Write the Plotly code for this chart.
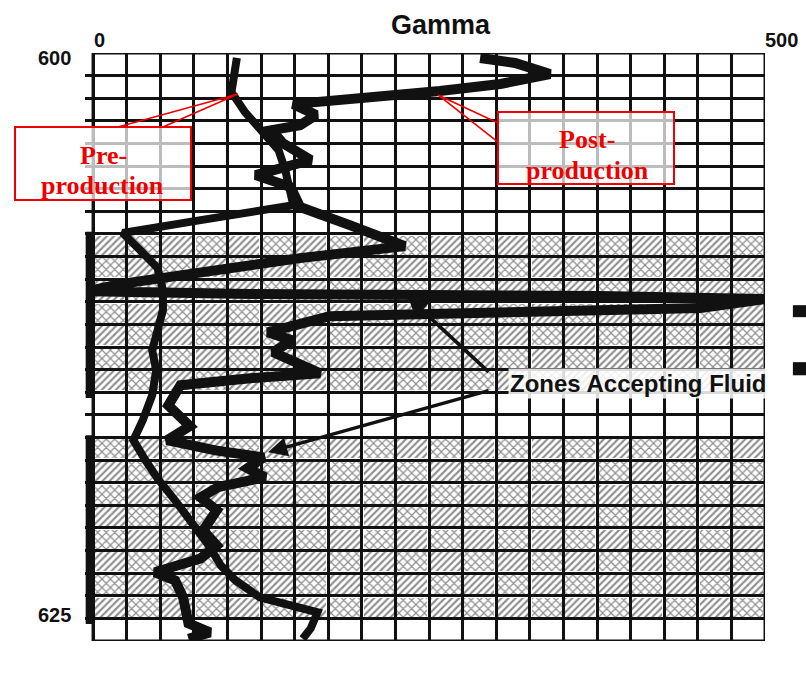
import plotly.graph_objects as go

# ---- Gamma-ray log, depth in ft, gamma in API units ----
pre_depth = [600.22, 600.97, 601.73, 602.61, 603.50, 604.29, 605.18, 606.06, 606.73,
             607.39, 607.96, 608.72, 609.51, 610.49, 611.37, 612.26, 613.14, 614.03,
             615.13, 616.24, 617.12, 618.01, 618.81, 619.78, 620.75, 621.77, 622.65,
             623.32, 624.07, 624.47, 624.73, 625.44, 625.90]
pre_gamma = [107, 105, 103, 113, 126, 138, 143, 147, 149,
             80, 22, 35, 48, 52, 52, 48, 44, 47,
             44, 37, 30, 39, 48, 61, 74, 86, 95,
             106, 124, 147, 167, 162, 156]

post_depth = [600.22, 600.44, 600.93, 601.37, 601.68, 601.90, 602.08, 602.26, 602.74,
              603.19, 603.41, 603.98, 604.73, 605.40, 605.93, 606.81, 607.61, 608.54,
              609.07, 609.78, 610.22, 610.53, 610.66, 610.75, 610.88, 611.28, 611.46,
              611.64, 612.35, 612.70, 613.23, 613.67, 614.16, 614.38, 614.69, 615.58,
              616.50, 617.12, 617.57, 617.88, 618.36, 618.76, 619.20, 619.65, 620.22,
              621.11, 621.77, 622.35, 622.96, 623.32, 624.07, 625.22, 625.62, 625.90]
post_gamma = [288, 314, 340, 303, 258, 214, 169, 149, 166,
              154, 133, 141, 162, 121, 147, 154, 191, 232,
              154, 65, 20, -4, 117, 377, 500, 452, 303,
              176, 130, 148, 134, 150, 169, 117, 65, 56,
              72, 55, 91, 127, 115, 128, 93, 80, 92,
              82, 92, 80, 46, 61, 67, 71, 87, 71]

# Sand intervals shown with lithology hatching (top, base in ft)
sand_tops = [608, 617]
sand_bases = [615, 625]

depth_top, depth_bottom = 600, 626
gamma_min, gamma_max = 0, 500
gamma_step = 25
depth_labels = [600, 625]
gamma_labels = [0, 500]

# ---- page geometry ----
W, H = 806, 695
ML, MR, MT, MB = 85, 41, 53, 54
PW, PH = W - ML - MR, H - MT - MB


def paper(xp, yp):
    """Page pixel position -> paper coordinates."""
    return (xp - ML) / PW, 1 - (yp - MT) / PH


INK = "#111111"
RED = "#ee0000"

fig = go.Figure()

# ---- hatched sand cells (two alternating textures) ----
n_cols = (gamma_max - gamma_min) // gamma_step
cells = {0: ([], [], []), 1: ([], [], [])}
for top, base in zip(sand_tops, sand_bases):
    for r, d in enumerate(range(top, base)):
        for c in range(n_cols):
            k = (r + c + top) % 2
            ys, xs, bs = cells[k]
            ys.append(d + 0.5)
            xs.append(gamma_step - 2.6)
            bs.append(gamma_min + c * gamma_step + 1.3)

textures = {
    0: dict(shape="/", fgcolor="#1e1e1e", bgcolor="white", size=5, solidity=0.42),
    1: dict(shape="x", fgcolor="#1e1e1e", bgcolor="white", size=6, solidity=0.36),
}
for k in (0, 1):
    ys, xs, bs = cells[k]
    fig.add_trace(go.Bar(
        orientation="h", y=ys, x=xs, base=bs, width=0.84,
        marker=dict(color="white", line_width=0, pattern=textures[k]),
        hoverinfo="skip", showlegend=False,
    ))

# ---- log curves ----
fig.add_trace(go.Scatter(x=pre_gamma, y=pre_depth, mode="lines",
                         line=dict(color=INK, width=8),
                         name="Pre-production", showlegend=False))
fig.add_trace(go.Scatter(x=post_gamma, y=post_depth, mode="lines",
                         line=dict(color=INK, width=10),
                         name="Post-production", showlegend=False))

shapes = []
# grid border
shapes.append(dict(type="rect", xref="x", yref="y", x0=gamma_min, x1=gamma_max,
                   y0=depth_top, y1=depth_bottom, line=dict(color=INK, width=3),
                   layer="above"))
# depth-track bars beside the sand intervals
for top, base in zip(sand_tops, sand_bases):
    shapes.append(dict(type="rect", xref="x", yref="y", x0=-5.5, x1=0.5,
                       y0=top - 0.1, y1=base + 0.25, fillcolor=INK,
                       line_width=0, layer="above"))
# small marks right of the track
for y0, y1 in [(611.15, 611.68), (613.67, 614.25)]:
    shapes.append(dict(type="rect", xref="paper", yref="y", x0=1.041, x1=1.07,
                       y0=y0, y1=y1, fillcolor=INK, line_width=0))

# callout boxes
for (x0p, y0p, x1p, y1p) in [(15, 127, 191, 200), (498, 112, 674, 184)]:
    a = paper(x0p, y0p)
    b = paper(x1p, y1p)
    shapes.append(dict(type="rect", xref="paper", yref="paper",
                       x0=a[0], y0=a[1], x1=b[0], y1=b[1],
                       fillcolor="rgba(255,255,255,0.72)",
                       line=dict(color=RED, width=2)))


def wedge(p1, tip, p2):
    pts = [paper(*p1), paper(*tip), paper(*p2)]
    return "M {:.4f},{:.4f} L {:.4f},{:.4f} L {:.4f},{:.4f}".format(
        pts[0][0], pts[0][1], pts[1][0], pts[1][1], pts[2][0], pts[2][1])


shapes.append(dict(type="path", xref="paper", yref="paper",
                   path=wedge((118, 127), (238, 94), (163, 127)),
                   line=dict(color=RED, width=1.6)))
shapes.append(dict(type="path", xref="paper", yref="paper",
                   path=wedge((498, 123), (438, 95), (498, 142)),
                   line=dict(color=RED, width=1.6)))

annotations = []
SANS = "Liberation Sans"
SERIF = "Liberation Serif"
CENTER = dict(xanchor="center", yanchor="middle")

# axis title and end labels
gx, gy = paper(441, 25)
annotations.append(dict(xref="paper", yref="paper", x=gx, y=gy, text="<b>Gamma</b>",
                        showarrow=False, font=dict(family=SANS, size=27, color=INK),
                        **CENTER))
ty = paper(0, 40)[1]
for v, sh in zip(gamma_labels, [6, 16]):
    annotations.append(dict(xref="x", yref="paper", x=v, y=ty, xshift=sh,
                            text="<b>%d</b>" % v, showarrow=False,
                            font=dict(family=SANS, size=20, color=INK), **CENTER))
lx = paper(73, 0)[0]
for v, sh in zip(depth_labels, [-5, 3]):
    annotations.append(dict(xref="paper", yref="y", x=lx, y=v, yshift=sh,
                            xanchor="right", yanchor="middle",
                            text="<b>%d</b>" % v, showarrow=False,
                            font=dict(family=SANS, size=20, color=INK)))

# callout texts
for txt, (xp, yp) in [("Pre-", (103, 155)), ("production", (102, 186)),
                      ("Post-", (587, 139)), ("production", (587, 170))]:
    px_, py_ = paper(xp, yp)
    annotations.append(dict(xref="paper", yref="paper", x=px_, y=py_,
                            text="<b>%s</b>" % txt, showarrow=False,
                            font=dict(family=SERIF, size=26, color=RED), **CENTER))

# fluid-entry arrows
annotations.append(dict(xref="x", yref="y", x=234.4, y=610.8, text="",
                        showarrow=True, ax=82, ay=76, arrowhead=2, arrowsize=1.1,
                        arrowwidth=3.5, arrowcolor=INK, standoff=0))
annotations.append(dict(xref="x", yref="y", x=130.2, y=617.65, text="",
                        showarrow=True, ax=222, ay=-62, arrowhead=2, arrowsize=1.1,
                        arrowwidth=3.5, arrowcolor=INK, standoff=0))
zx, zy = paper(638, 383)
annotations.append(dict(xref="paper", yref="paper", x=zx, y=zy,
                        text="<b>Zones Accepting Fluid</b>", showarrow=False,
                        bgcolor="rgba(255,255,255,0.85)", borderpad=1,
                        font=dict(family=SANS, size=24, color=INK), **CENTER))

fig.update_layout(
    width=W, height=H,
    margin=dict(l=ML, r=MR, t=MT, b=MB),
    paper_bgcolor="white", plot_bgcolor="white",
    barmode="overlay", bargap=0,
    showlegend=False,
    shapes=shapes, annotations=annotations,
    xaxis=dict(range=[-6, gamma_max], tickmode="array",
               tickvals=list(range(gamma_min, gamma_max + 1, gamma_step)),
               showgrid=True, gridcolor=INK, gridwidth=3,
               showticklabels=False, ticks="", zeroline=False, showline=False,
               fixedrange=True),
    yaxis=dict(range=[depth_bottom, depth_top], tickmode="array",
               tickvals=list(range(depth_top, depth_bottom + 1)),
               showgrid=True, gridcolor=INK, gridwidth=3,
               showticklabels=False, ticks="", zeroline=False, showline=False,
               fixedrange=True),
)

fig.write_html("out.html")
